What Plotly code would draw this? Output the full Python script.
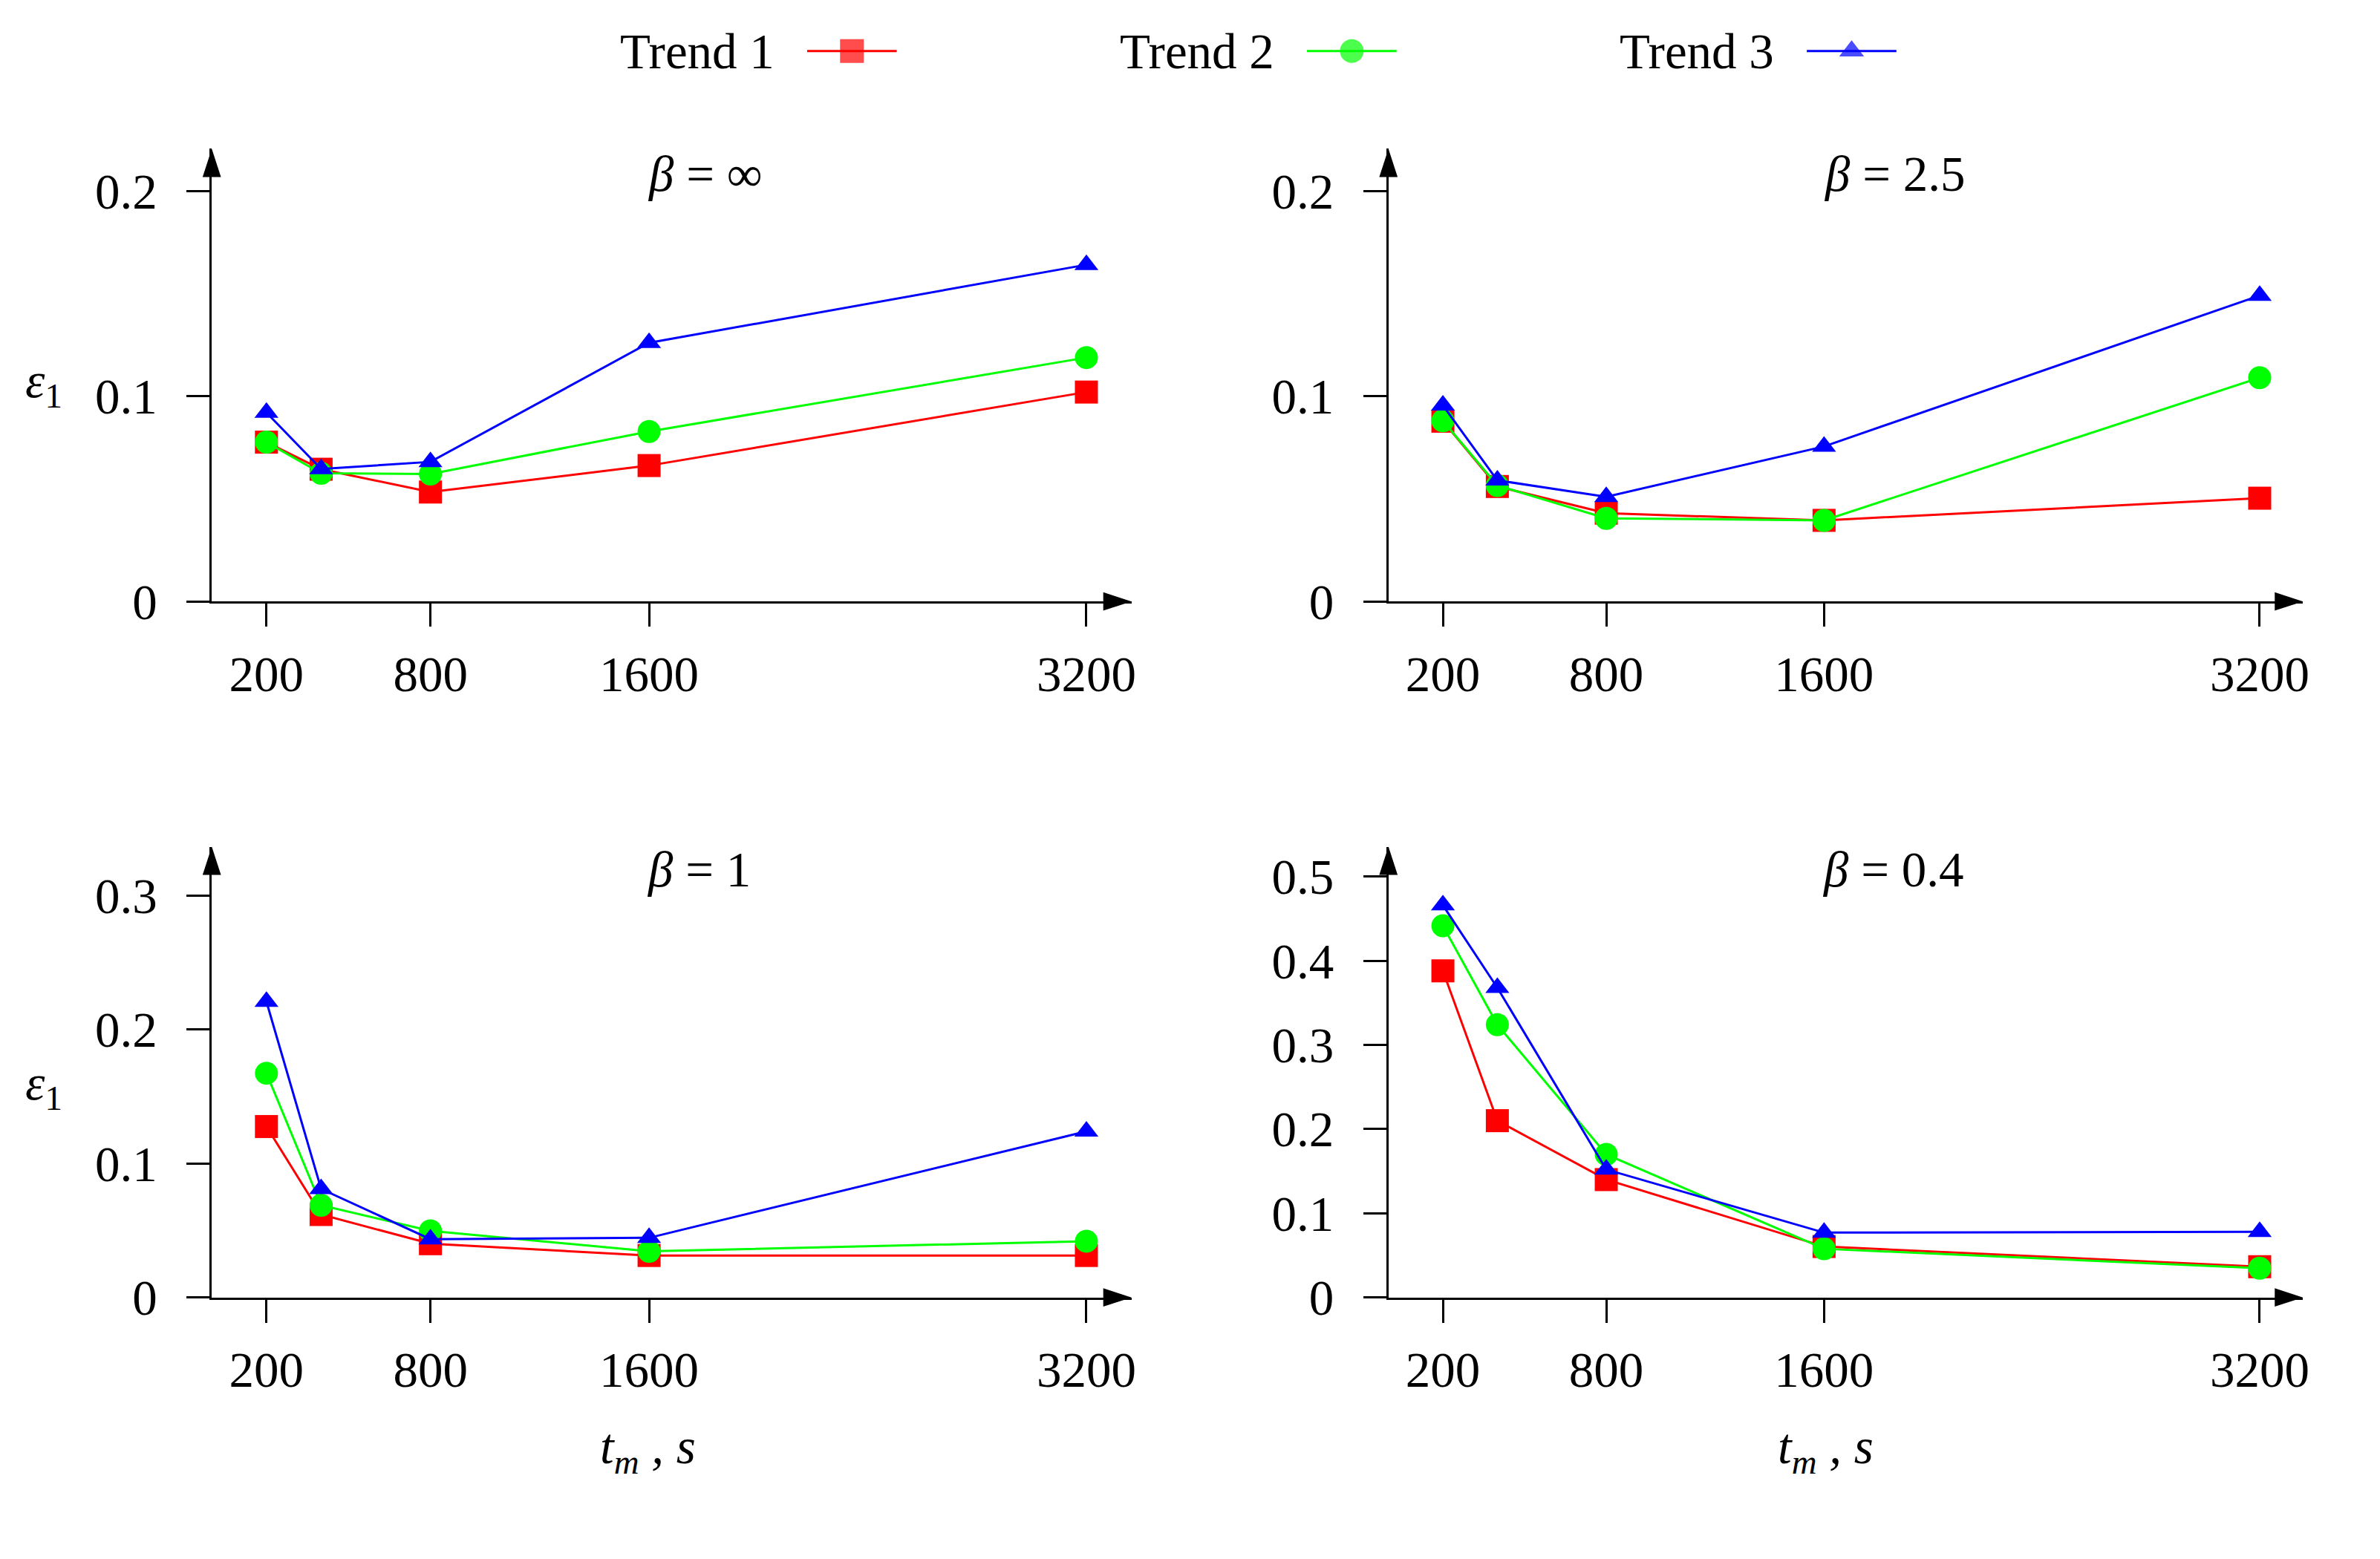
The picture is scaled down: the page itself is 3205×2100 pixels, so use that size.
import plotly.graph_objects as go

# ---------------- data ----------------
t_m = [200, 400, 800, 1600, 3200]
x_tick_vals = [200, 800, 1600, 3200]
x_tick_text = ["200", "800", "1600", "3200"]

series_names = ["Trend 1", "Trend 2", "Trend 3"]

# beta = inf
binf_t1 = [0.0776, 0.0644, 0.0533, 0.0662, 0.1020]
binf_t2 = [0.0776, 0.0624, 0.0621, 0.0828, 0.1188]
binf_t3 = [0.0920, 0.0645, 0.0680, 0.1260, 0.1640]
# beta = 2.5
b25_t1 = [0.0878, 0.0560, 0.0430, 0.0395, 0.0503]
b25_t2 = [0.0880, 0.0565, 0.0405, 0.0395, 0.1090]
b25_t3 = [0.0955, 0.0590, 0.0510, 0.0755, 0.1490]
# beta = 1
b1_t1 = [0.1276, 0.0619, 0.0401, 0.0313, 0.0313]
b1_t2 = [0.1674, 0.0688, 0.0497, 0.0344, 0.0420]
b1_t3 = [0.2208, 0.0810, 0.0435, 0.0445, 0.1240]
# beta = 0.4
b04_t1 = [0.388, 0.210, 0.140, 0.0605, 0.0365]
b04_t2 = [0.4416, 0.324, 0.170, 0.0578, 0.0347]
b04_t3 = [0.466, 0.368, 0.152, 0.0770, 0.0780]

panel_titles = ["<i>β</i> = ∞", "<i>β</i> = 2.5", "<i>β</i> = 1", "<i>β</i> = 0.4"]
y_ticks_top = [0, 0.1, 0.2]
y_ticks_top_text = ["0", "0.1", "0.2"]
y_ticks_b1 = [0, 0.1, 0.2, 0.3]
y_ticks_b1_text = ["0", "0.1", "0.2", "0.3"]
y_ticks_b04 = [0, 0.1, 0.2, 0.3, 0.4, 0.5]
y_ticks_b04_text = ["0", "0.1", "0.2", "0.3", "0.4", "0.5"]

# ---------------- style ----------------
W, H = 3205, 2100
FONT = "Liberation Serif"
FS = 67
colors = ["#ff0000", "#00ff00", "#0000ff"]
symbols = ["square", "circle", "triangle-up"]
msizes = [31, 31, 28]
LW = 3

def px(x):
    return x / W

def py(y):
    return 1 - y / H

panels = [
    dict(xa="x", ya="y", data=[binf_t1, binf_t2, binf_t3], xdom=[286, 1528], ydom=[824.7, 204],
         xmax=3365, ymax=0.2205, yt=y_ticks_top, ytt=y_ticks_top_text),
    dict(xa="x2", ya="y2", data=[b25_t1, b25_t2, b25_t3], xdom=[1875, 3110], ydom=[824.7, 204],
         xmax=3359, ymax=0.2205, yt=y_ticks_top, ytt=y_ticks_top_text),
    dict(xa="x3", ya="y3", data=[b1_t1, b1_t2, b1_t3], xdom=[286, 1528], ydom=[1779, 1161],
         xmax=3365, ymax=0.3365, yt=y_ticks_b1, ytt=y_ticks_b1_text),
    dict(xa="x4", ya="y4", data=[b04_t1, b04_t2, b04_t3], xdom=[1875, 3110], ydom=[1779, 1161],
         xmax=3359, ymax=0.5355, yt=y_ticks_b04, ytt=y_ticks_b04_text),
]

fig = go.Figure()
layout = dict(
    width=W, height=H, margin=dict(l=0, r=0, t=0, b=0),
    paper_bgcolor="white", plot_bgcolor="rgba(0,0,0,0)",
    showlegend=False, font=dict(family=FONT, size=FS, color="black"),
)

for i, p in enumerate(panels):
    sfx = "" if i == 0 else str(i + 1)
    layout["xaxis" + sfx] = dict(
        domain=[px(p["xdom"][0]), px(p["xdom"][1])], range=[0, p["xmax"]],
        anchor=p["ya"], tickmode="array", tickvals=x_tick_vals, ticktext=x_tick_text,
        ticks="outside", ticklen=31, tickwidth=3, tickcolor="black",
        showline=True, linewidth=3, linecolor="black", showgrid=False, zeroline=False,
        tickfont=dict(family=FONT, size=FS, color="black"), ticklabelstandoff=6,
        fixedrange=True,
    )
    layout["yaxis" + sfx] = dict(
        domain=[py(p["ydom"][0]), py(p["ydom"][1])], range=[0, p["ymax"]],
        anchor=p["xa"], tickmode="array", tickvals=p["yt"], ticktext=p["ytt"],
        ticks="outside", ticklen=31, tickwidth=3, tickcolor="black",
        showline=True, linewidth=3, linecolor="black", showgrid=False, zeroline=False,
        tickfont=dict(family=FONT, size=FS, color="black"), ticklabelstandoff=26,
        fixedrange=True,
    )
    for k in range(3):
        fig.add_trace(go.Scatter(
            x=t_m, y=p["data"][k], xaxis=p["xa"], yaxis=p["ya"], mode="lines+markers",
            name=series_names[k], line=dict(color=colors[k], width=LW),
            marker=dict(symbol=symbols[k], size=msizes[k], color=colors[k], line=dict(width=0)),
            cliponaxis=False, hoverinfo="skip",
        ))
    # axis arrowheads
    fig.add_trace(go.Scatter(
        x=[0, p["xmax"]], y=[p["ymax"], 0], xaxis=p["xa"], yaxis=p["ya"], mode="markers",
        marker=dict(symbol="arrow", size=40, angle=[0, 90], color="black", line=dict(width=0)),
        cliponaxis=False, hoverinfo="skip", showlegend=False,
    ))

# legend overlay axis in pixel units
layout["xaxis5"] = dict(domain=[0, 1], range=[0, W], visible=False, fixedrange=True)
layout["yaxis5"] = dict(domain=[0, 1], range=[H, 0], visible=False, fixedrange=True, anchor="x5")
leg_step = 675
leg_line0 = (1090, 1211)
leg_y = 70
annotations = []
for k in range(3):
    x0 = leg_line0[0] + k * leg_step
    x1 = leg_line0[1] + k * leg_step
    xm = (x0 + x1) / 2
    fig.add_trace(go.Scatter(
        x=[x0, xm, x1], y=[leg_y] * 3, xaxis="x5", yaxis="y5", mode="lines+markers",
        line=dict(color=colors[k], width=LW),
        marker=dict(symbol=symbols[k], size=[0, msizes[k] + 1, 0], color=colors[k], line=dict(width=0)),
        cliponaxis=False, hoverinfo="skip", showlegend=False,
    ))
    annotations.append(dict(
        x=px(1048 + k * leg_step), y=py(leg_y), xref="paper", yref="paper",
        text=series_names[k], showarrow=False, xanchor="right", yanchor="middle",
        font=dict(family=FONT, size=FS, color="black"),
    ))

title_pos = [(952, 238), (2558, 238), (944, 1192), (2556, 1192)]
for t, (tx, ty) in zip(panel_titles, title_pos):
    annotations.append(dict(x=px(tx), y=py(ty), xref="paper", yref="paper", text=t,
                            showarrow=False, xanchor="center", yanchor="middle",
                            font=dict(family=FONT, size=FS, color="black")))

for ey in (526, 1489):
    annotations.append(dict(x=px(59), y=py(ey), xref="paper", yref="paper",
                            text="<i>ε</i><sub>1</sub>", showarrow=False,
                            xanchor="center", yanchor="middle",
                            font=dict(family=FONT, size=FS, color="black")))

for xx in (875, 2465):
    annotations.append(dict(x=px(xx), y=py(1988), xref="paper", yref="paper",
                            text="<i>t</i><sub><i>m</i></sub><i> , s</i>", showarrow=False,
                            xanchor="center", yanchor="middle",
                            font=dict(family=FONT, size=FS, color="black")))

layout["annotations"] = annotations
fig.update_layout(**layout)
fig.write_html("out.html", config={"displayModeBar": False},
               post_script="document.body.style.margin='0';document.body.style.overflow='hidden';")
